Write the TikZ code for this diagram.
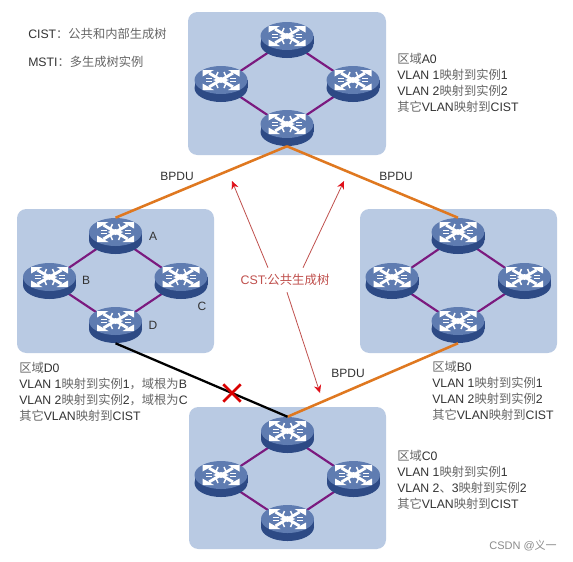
\documentclass[tikz,border=0pt]{standalone}
\usepackage{fontspec}
\usetikzlibrary{arrows.meta, shapes.geometric, shapes.misc}
\setmainfont{Liberation Sans}
\newfontfamily\cjk{Noto Sans CJK SC}
\definecolor{regionblue}{HTML}{B9CAE3}
\definecolor{swtop}{HTML}{5F7CB1}
\definecolor{swside}{HTML}{2D4A85}
\definecolor{linkpurple}{HTML}{7B1A7F}
\definecolor{bpduorange}{HTML}{DF7820}
\definecolor{cstred}{HTML}{C0504D}
\definecolor{tipred}{HTML}{E0101A}
\definecolor{txtdark}{HTML}{333333}
\definecolor{txtzh}{HTML}{666666}
\newcommand{\zh}[1]{{\cjk\color{txtzh}#1}}
\tikzset{
  region/.style={fill=regionblue, rounded corners=7pt},
  swnode/.style={ellipse, minimum width=39.75pt, minimum height=27pt, inner sep=0pt},
  link/.style={line width=1.6pt, color=linkpurple},
  bpdu/.style={line width=1.9pt, color=bpduorange},
  lost/.style={line width=1.7pt, color=black},
  cstarrow/.style={-{Stealth[length=6pt, width=5.5pt, color=tipred]}, line width=0.6pt, color=cstred},
  lbl/.style={font=\fontsize{9}{11}\selectfont, text=txtdark, inner sep=0pt},
  info/.style={font=\fontsize{9.2}{12}\selectfont, text=txtdark, align=left, anchor=north west, inner sep=0pt},
  switchicon/.pic={
    \fill[swside] (0,4) ellipse [x radius=26.5, y radius=14];
    \fill[swside] (-26.5,-4) rectangle (26.5,4);
    \fill[swtop] (0,-4) ellipse [x radius=26.5, y radius=14];
    \foreach \sx/\sy in {1/1,1/-1,-1/1,-1/-1} {
      \fill[white] (\sx*18.5,-4+\sy*10) -- (\sx*7,-4+\sy*10) -- (\sx*18.5,-4+\sy*3.5) -- cycle;
      \draw[white, line width=2.2pt] (\sx*12,-4+\sy*7) -- (\sx*2,-4+\sy*1);
      \draw[white, line width=1.1pt] (\sx*3,-4+\sy*8) -- (\sx*5,-4+\sy*3.5);
      \draw[white, line width=1.1pt] (\sx*15,-4+\sy*1.5) -- (\sx*9,-4+\sy*1.5);
    }
    \fill[white] (-8,-4) -- (0,-7) -- (8,-4) -- (0,-1) -- cycle;
  }
}

\begin{document}
\begin{tikzpicture}[x=0.75pt, y=-0.75pt]
\fill[white] (0,0) rectangle (573,561);
\useasboundingbox (0,0) rectangle (573,561);

\fill[region] (188,12) rectangle (386,155);
\fill[region] (17,209) rectangle (214,353);
\fill[region] (360,209) rectangle (557,353);
\fill[region] (189,407) rectangle (386,549);

\foreach \nm/\x/\y in {a0-t/287/40, a0-l/221/84, a0-r/353/84, a0-b/287/128,
                       d0-t/115.5/236, d0-l/49.5/281, d0-r/181/281, d0-b/115.5/325,
                       b0-t/458/236, b0-l/392/281, b0-r/524.5/281, b0-b/458/325,
                       c0-t/287.5/435, c0-l/221/479, c0-r/353.5/479, c0-b/287.5/523}
  \node[swnode] (\nm) at (\x,\y) {};

% rings
\foreach \r in {a0,d0,b0,c0} {
  \draw[link] (\r-t.center) -- (\r-l.center) -- (\r-b.center) -- (\r-r.center) -- cycle;
}

\foreach \nm in {a0-t,a0-l,a0-r,a0-b,d0-t,d0-l,d0-r,d0-b,b0-t,b0-l,b0-r,b0-b,c0-t,c0-l,c0-r,c0-b}
  \pic at (\nm) {switchicon};

% links between regions
\draw[bpdu] (a0-b.south) -- (d0-t.north);
\draw[bpdu] (a0-b.south) -- (b0-t.north);
\draw[bpdu] (b0-b.south) -- (c0-t.north);
\draw[lost] (d0-b.south) -- (c0-t.north);
\node[cross out, draw=red!85!black, line width=2pt, minimum size=11pt, inner sep=0pt] (blocked) at (232,393) {};

\node[lbl] (bpduleft) at (177,176) {BPDU};
\node[lbl] (bpduright) at (396,176) {BPDU};
\node[lbl] (bpdulow) at (348,373) {BPDU};

% CST label and arrows
\node[font=\fontsize{9.3}{11}\selectfont, text=cstred, minimum height=18pt, inner sep=0pt] (cst) at (285,280) {CST:{\cjk 公共生成树}};
\coordinate (tipleft) at (232,181);
\coordinate (tipright) at (344,181);
\coordinate (tiplow) at (320,393);
\draw[cstarrow] ([xshift=-12.75pt]cst.north) -- (tipleft);
\draw[cstarrow] ([xshift=13.5pt]cst.north) -- (tipright);
\draw[cstarrow] ([xshift=1.5pt]cst.south) -- (tiplow);

\node[lbl] (namea) at (153,236) {A};
\node[lbl] (nameb) at (86,280) {B};
\node[lbl] (namec) at (202,306) {C};
\node[lbl] (named) at (153,325) {D};

\node[lbl, font=\fontsize{9.2}{11}\selectfont, anchor=west] (cist) at (28,34) {CIST\zh{：公共和内部生成树}};
\node[lbl, font=\fontsize{9.2}{11}\selectfont, anchor=west] (msti) at (28,62) {MSTI\zh{：多生成树实例}};

\node[info] (infoa) at (397,53) {\zh{区域}A0\\VLAN 1\zh{映射到实例}1\\VLAN 2\zh{映射到实例}2\\\zh{其它}VLAN\zh{映射到}CIST};
\node[info] (infod) at (19,362) {\zh{区域}D0\\VLAN 1\zh{映射到实例}1\zh{，域根为}B\\VLAN 2\zh{映射到实例}2\zh{，域根为}C\\\zh{其它}VLAN\zh{映射到}CIST};
\node[info] (infob) at (432,361) {\zh{区域}B0\\VLAN 1\zh{映射到实例}1\\VLAN 2\zh{映射到实例}2\\\zh{其它}VLAN\zh{映射到}CIST};
\node[info] (infoc) at (397,450) {\zh{区域}C0\\VLAN 1\zh{映射到实例}1\\VLAN 2\zh{、}3\zh{映射到实例}2\\\zh{其它}VLAN\zh{映射到}CIST};

\node[font=\fontsize{8.25}{10}\selectfont, text=black!45, anchor=east, inner sep=0pt] (csdn) at (557,546) {CSDN @{\cjk 义一}};

\end{tikzpicture}
\end{document}
